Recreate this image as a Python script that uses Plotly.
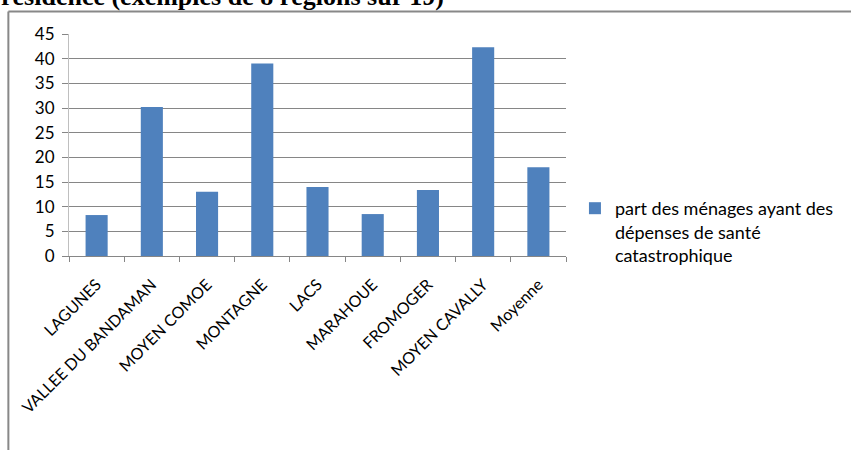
import plotly.graph_objects as go

categories = ["LAGUNES", "VALLEE DU BANDAMAN", "MOYEN COMOE", "MONTAGNE", "LACS",
              "MARAHOUE", "FROMOGER", "MOYEN CAVALLY", "Moyenne"]
values = [8.3, 30.2, 13.0, 39.0, 14.0, 8.5, 13.4, 42.3, 18.0]
series_name = "part des ménages ayant des<br>dépenses de santé<br>catastrophique"
y_ticks = [0, 5, 10, 15, 20, 25, 30, 35, 40, 45]
title_text = "résidence (exemples de 8 régions sur 19)"

W, H = 851, 450
L, R, T, B = 69, 569, 34, 256  # plot area in pixels
pw, ph = R - L, B - T


def px_x(x):
    return (x - L) / pw


def px_y(y):
    return (B - y) / ph


font = "Lato, 'Open Sans', sans-serif"

fig = go.Figure()
fig.add_trace(go.Bar(
    x=categories, y=values, name=series_name,
    marker=dict(color="#4F81BD", line=dict(width=0)),
    showlegend=True,
))

fig.update_layout(
    width=W, height=H,
    margin=dict(l=L, r=W - R, t=T, b=H - B, pad=0),
    paper_bgcolor="white", plot_bgcolor="white",
    bargap=0.6,
    font=dict(family=font, color="#000000"),
    showlegend=True,
    legend=dict(
        x=px_x(578), y=px_y(190), xanchor="left", yanchor="top",
        xref="paper", yref="paper",
        font=dict(size=18, family=font, color="#000000"),
        valign="top", bgcolor="rgba(0,0,0,0)",
    ),
    xaxis=dict(
        tickangle=-45, tickfont=dict(size=16, family=font, color="#000000"),
        showline=True, linecolor="#868686", linewidth=1,
        ticks="outside", tickson="boundaries", ticklen=5, tickcolor="#868686",
        showgrid=False, ticklabelstandoff=12,
    ),
    yaxis=dict(
        range=[0, 45], tickvals=y_ticks, ticktext=[str(v) for v in y_ticks],
        tickfont=dict(size=17, family=font, color="#000000"),
        showline=True, linecolor="#BFBFBF", linewidth=1,
        ticks="outside", ticklen=6, tickcolor="#868686",
        showgrid=True, gridcolor="#868686", gridwidth=1,
        zeroline=False, ticklabelstandoff=4,
    ),
    shapes=[
        dict(type="line", xref="paper", yref="paper",
             x0=px_x(8), x1=px_x(W + 5), y0=px_y(11.5), y1=px_y(11.5),
             line=dict(color="#888888", width=2)),
        dict(type="line", xref="paper", yref="paper",
             x0=px_x(8), x1=px_x(8), y0=px_y(11.5), y1=px_y(H + 5),
             line=dict(color="#888888", width=2)),
    ],
    annotations=[
        dict(text="<b>" + title_text + "</b>", xref="paper", yref="paper",
             x=px_x(-1), y=px_y(13), xanchor="left", yanchor="bottom",
             showarrow=False,
             font=dict(family="'Liberation Serif', 'Times New Roman', serif",
                       size=26, color="#000000")),
    ],
)

fig.write_html("out.html", config={"displayModeBar": False},
               post_script="document.body.style.margin='0';document.body.style.overflow='hidden';")
